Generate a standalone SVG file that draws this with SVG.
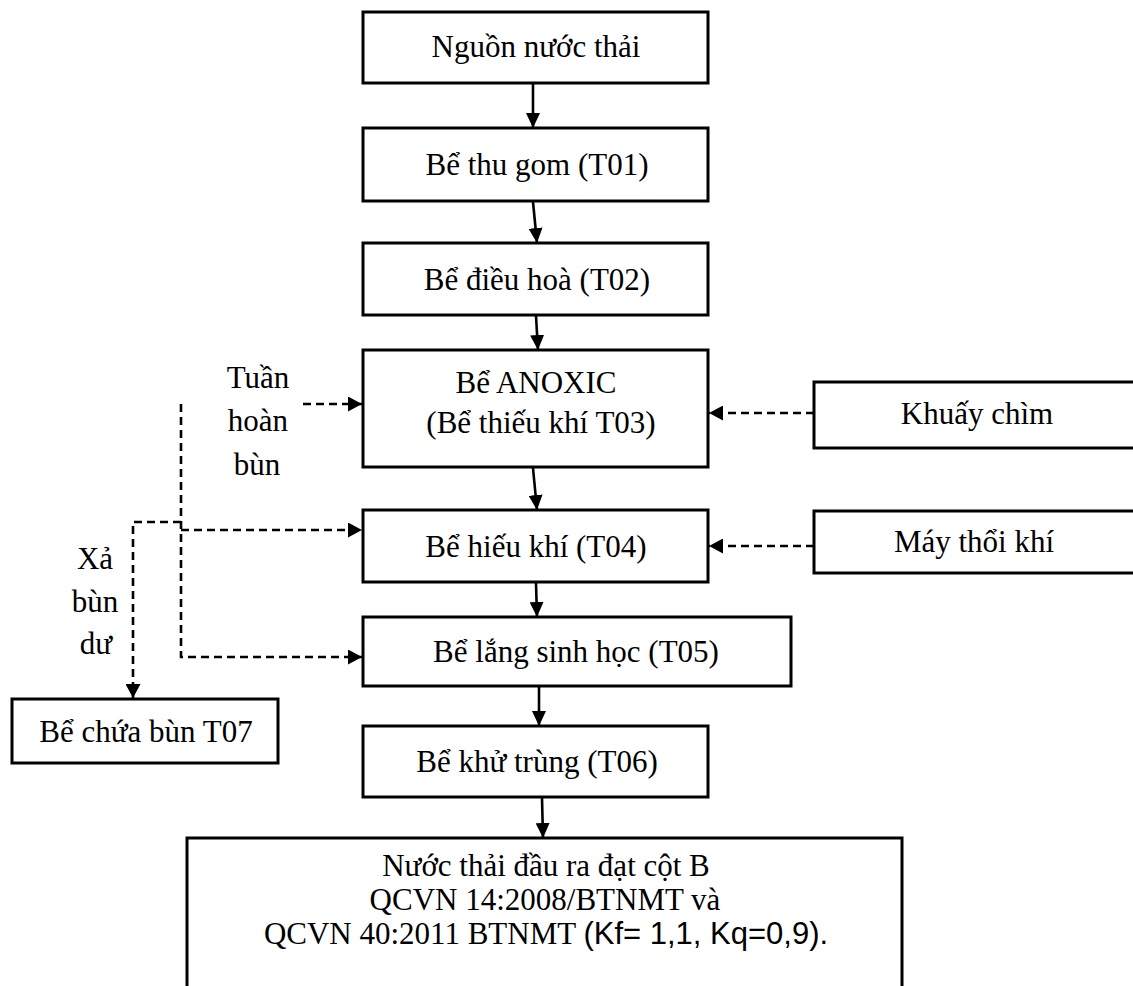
<svg xmlns="http://www.w3.org/2000/svg" width="1133" height="986" viewBox="0 0 1133 986">
<style>
.box{fill:#fff;stroke:#000;stroke-width:3}
.t{font-family:"Liberation Serif","Times New Roman",serif;font-size:31px;fill:#000;text-anchor:middle}
.s{font-family:"Liberation Sans",Arial,sans-serif}
.sol{stroke:#000;stroke-width:2.6;fill:none}
.dash{stroke:#000;stroke-width:2.6;fill:none;stroke-dasharray:8 5}
</style>
<defs>
<marker id="ah" markerUnits="userSpaceOnUse" markerWidth="15" markerHeight="14" refX="15" refY="7" orient="auto">
<path d="M0,0 L15,7 L0,14 z" fill="#000"/>
</marker>
<marker id="ahd" markerUnits="userSpaceOnUse" markerWidth="14" markerHeight="15" refX="14" refY="7.5" orient="auto">
<path d="M0,0 L14,7.5 L0,15 z" fill="#000"/>
</marker>
</defs>
<rect width="1133" height="986" fill="#fff"/>

<g id="connectors">
<line class="sol" x1="533" y1="84" x2="533" y2="128" marker-end="url(#ah)"/>
<line class="sol" x1="533" y1="202" x2="537" y2="243" marker-end="url(#ah)"/>
<line class="sol" x1="536" y1="316" x2="538" y2="350" marker-end="url(#ah)"/>
<line class="sol" x1="533" y1="468" x2="537" y2="510" marker-end="url(#ah)"/>
<line class="sol" x1="536" y1="583" x2="537" y2="617" marker-end="url(#ah)"/>
<line class="sol" x1="539" y1="687" x2="539" y2="726" marker-end="url(#ah)"/>
<line class="sol" x1="542" y1="798" x2="543" y2="838" marker-end="url(#ah)"/>
<line class="dash" x1="814" y1="413" x2="709" y2="413" marker-end="url(#ahd)"/>
<line class="dash" x1="814" y1="546" x2="709" y2="546" marker-end="url(#ahd)"/>
<line class="dash" x1="303" y1="404" x2="362" y2="404" marker-end="url(#ahd)"/>
<path class="dash" d="M181,404 L181,657 L362,657" marker-end="url(#ahd)"/>
<line class="dash" x1="181" y1="530" x2="362" y2="530" marker-end="url(#ahd)"/>
<path class="dash" d="M181,522 L133,522 L133,698" marker-end="url(#ahd)"/>
</g>

<g id="n1"><rect class="box" x="363" y="12" width="345" height="71"/><text class="t" x="536" y="57">Nguồn nước thải</text></g>
<g id="n2"><rect class="box" x="363" y="128" width="345" height="73"/><text class="t" x="537" y="175">Bể thu gom (T01)</text></g>
<g id="n3"><rect class="box" x="363" y="243" width="345" height="72"/><text class="t" x="537" y="290">Bể điều hoà (T02)</text></g>
<g id="n4"><rect class="box" x="363" y="350" width="345" height="117"/><text class="t" x="536" y="393">Bể ANOXIC</text><text class="t" x="541" y="433">(Bể thiếu khí T03)</text></g>
<g id="n5"><rect class="box" x="363" y="510" width="345" height="72"/><text class="t" x="536" y="557">Bể hiếu khí (T04)</text></g>
<g id="n6"><rect class="box" x="363" y="617" width="428" height="69"/><text class="t" x="576" y="662">Bể lắng sinh học (T05)</text></g>
<g id="n7"><rect class="box" x="363" y="726" width="345" height="71"/><text class="t" x="537" y="772">Bể khử trùng (T06)</text></g>
<g id="n8"><rect class="box" x="187" y="838" width="715" height="160"/>
<text class="t" x="546" y="876">Nước thải đầu ra đạt cột B</text>
<text class="t" x="545" y="910">QCVN 14:2008/BTNMT và</text>
<text class="t" x="546" y="944">QCVN 40:2011 BTNMT <tspan class="s">(Kf= 1,1, Kq=0,9).</tspan></text></g>
<g id="n9"><rect class="box" x="814" y="382" width="330" height="66"/><text class="t" x="977" y="424">Khuấy chìm</text></g>
<g id="n10"><rect class="box" x="814" y="511" width="330" height="62"/><text class="t" x="974" y="552">Máy thổi khí</text></g>
<g id="n11"><rect class="box" x="12" y="699" width="266" height="64"/><text class="t" x="146" y="742">Bể chứa bùn T07</text></g>
<g id="lbl1"><text class="t" x="258" y="388">Tuần</text><text class="t" x="258" y="431">hoàn</text><text class="t" x="257" y="475">bùn</text></g>
<g id="lbl2"><text class="t" x="95" y="569">Xả</text><text class="t" x="95" y="612">bùn</text><text class="t" x="96" y="654">dư</text></g>
</svg>
